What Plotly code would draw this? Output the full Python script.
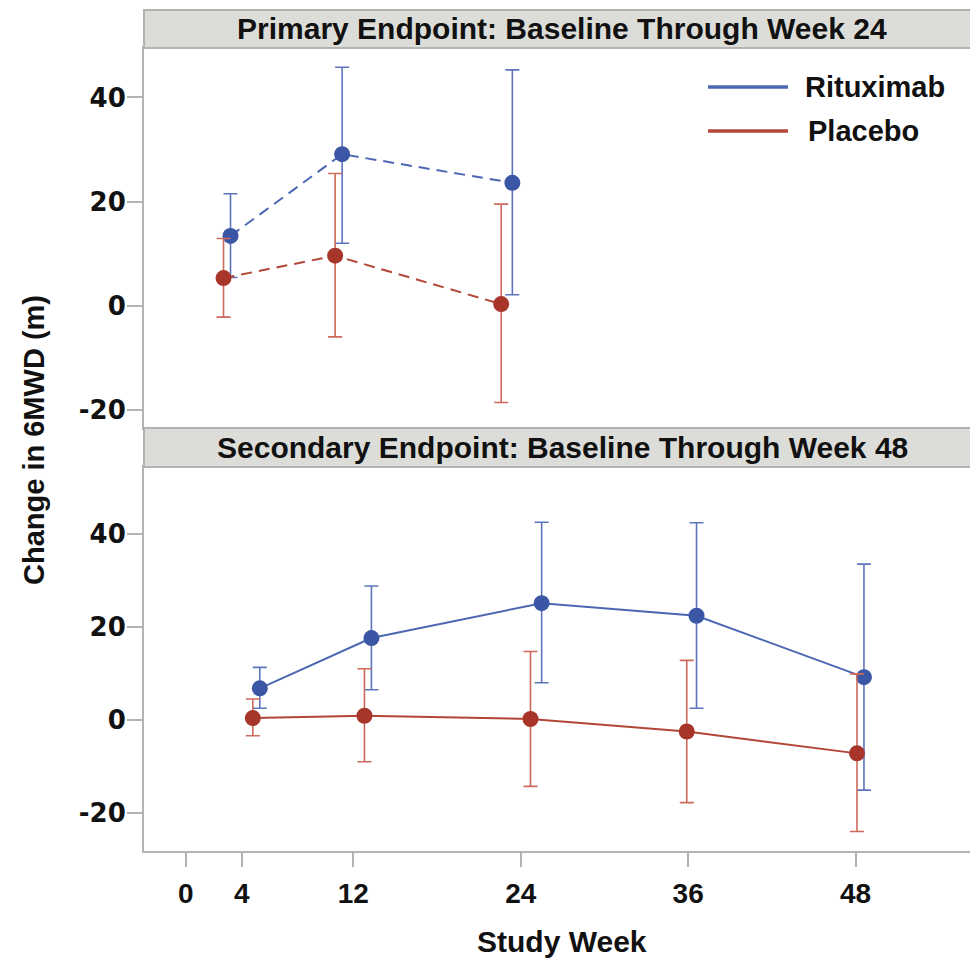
import plotly.graph_objects as go

# ---------------- data ----------------
tick_weeks = [0, 4, 12, 24, 36, 48]
tick_labels = ["0", "4", "12", "24", "36", "48"]
y_tick_vals = [-20, 0, 20, 40]
y_tick_labels = ["-20", "0", "20", "40"]

# Primary endpoint (baseline through week 24) - plotted week positions are slightly offset
weeks_primary_rtx = [3.2, 11.2, 23.4]
weeks_primary_pbo = [2.7, 10.7, 22.6]
rtx_primary = [13.4, 29.1, 23.6]
rtx_primary_hi = [21.5, 45.8, 45.3]
rtx_primary_lo = [5.4, 12.0, 2.1]
pbo_primary = [5.3, 9.6, 0.3]
pbo_primary_hi = [12.9, 25.4, 19.5]
pbo_primary_lo = [-2.2, -6.0, -18.6]

# Secondary endpoint (baseline through week 48)
weeks_secondary_rtx = [5.3, 13.3, 25.5, 36.6, 48.6]
weeks_secondary_pbo = [4.8, 12.8, 24.7, 35.9, 48.1]
rtx_secondary = [6.8, 17.6, 25.1, 22.4, 9.2]
rtx_secondary_hi = [11.3, 28.8, 42.5, 42.4, 33.5]
rtx_secondary_lo = [2.5, 6.5, 8.0, 2.5, -15.1]
pbo_secondary = [0.4, 0.9, 0.2, -2.5, -7.2]
pbo_secondary_hi = [4.5, 11.0, 14.7, 12.8, 9.9]
pbo_secondary_lo = [-3.4, -9.0, -14.3, -17.8, -24.0]

series_names = ["Rituximab", "Placebo"]
panel_titles = ["Primary Endpoint: Baseline Through Week 24",
                "Secondary Endpoint: Baseline Through Week 48"]
x_title = "Study Week"
y_title = "Change in 6MWD (m)"

# ---------------- styles ----------------
BLUE_M, BLUE_L, BLUE_E = "#3a56a5", "#4d68b3", "#5d74bd"
RED_M, RED_L, RED_E = "#a8352a", "#b24637", "#cc6a5c"
AXIS_C = "#b3b3b3"
HDR_FILL = "#dcddd8"
FONT_B = "Liberation Sans, Arial, sans-serif"

W, H = 970, 959
L, R, T, B = 144, 0, 10, 959 - 851
PW, PH = W - L - R, H - T - B


def px_x(px):
    return (px - L) / PW


def px_y(py):
    return (H - B - py) / PH


top_dom = [px_y(428), px_y(48)]
bot_dom = [0, px_y(467)]


def err(vals, hi, lo):
    return dict(type="data", symmetric=False,
                array=[h - v for h, v in zip(hi, vals)],
                arrayminus=[v - l for v, l in zip(vals, lo)])


fig = go.Figure()


def add_series(x, y, hi, lo, lc, mc, ec, dash, xa, ya, name):
    e = err(y, hi, lo)
    e.update(color=ec, thickness=1.6, width=7)
    fig.add_trace(go.Scatter(
        x=x, y=y, mode="lines+markers", name=name, showlegend=False,
        line=dict(color=lc, width=2, dash=dash),
        marker=dict(color=mc, size=16, line=dict(width=0)),
        error_y=e, xaxis=xa, yaxis=ya))


add_series(weeks_primary_rtx, rtx_primary, rtx_primary_hi, rtx_primary_lo,
           BLUE_L, BLUE_M, BLUE_E, "11px,7px", "x", "y", series_names[0])
add_series(weeks_primary_pbo, pbo_primary, pbo_primary_hi, pbo_primary_lo,
           RED_L, RED_M, RED_E, "11px,7px", "x", "y", series_names[1])
add_series(weeks_secondary_rtx, rtx_secondary, rtx_secondary_hi, rtx_secondary_lo,
           BLUE_L, BLUE_M, BLUE_E, "solid", "x2", "y2", series_names[0])
add_series(weeks_secondary_pbo, pbo_secondary, pbo_secondary_hi, pbo_secondary_lo,
           RED_L, RED_M, RED_E, "solid", "x2", "y2", series_names[1])

x_range = [-3.0, 56.2]
common_x = dict(range=x_range, showline=True, linecolor=AXIS_C, linewidth=2,
                mirror=True, showgrid=False, zeroline=False)
common_y = dict(showline=True, linecolor=AXIS_C, linewidth=2, mirror=False,
                showgrid=False, zeroline=False, ticks="outside", ticklen=15,
                tickcolor=AXIS_C, tickwidth=1.5, tickvals=y_tick_vals,
                ticktext=y_tick_labels,
                tickfont=dict(family="DejaVu Sans, sans-serif", size=26,
                              color="#111", weight="bold"),
                ticklabelstandoff=-4)

fig.update_layout(
    width=W, height=H,
    margin=dict(l=L, r=R, t=T, b=B),
    paper_bgcolor="white", plot_bgcolor="white",
    showlegend=False,
    xaxis=dict(domain=[0, 1], anchor="y", showticklabels=False, ticks="",
               **common_x),
    yaxis=dict(domain=top_dom, anchor="x", range=[-23.5, 49.5], **common_y),
    xaxis2=dict(domain=[0, 1], anchor="y2", tickvals=tick_weeks, ticktext=tick_labels,
                ticks="outside", ticklen=14, tickcolor=AXIS_C, tickwidth=1.5,
                tickfont=dict(family=FONT_B, size=28, color="#111", weight="bold"),
                ticklabelstandoff=2, **common_x),
    yaxis2=dict(domain=bot_dom, anchor="x2", range=[-28.2, 54.4], **common_y),
)

shapes = []
annotations = []
# panel headers
for (y0, y1), title in zip([(px_y(48), px_y(10)), (px_y(467), px_y(428))], panel_titles):
    shapes.append(dict(type="rect", xref="paper", yref="paper", x0=0, x1=1.01, y0=y0, y1=y1,
                       fillcolor=HDR_FILL, line=dict(color=AXIS_C, width=2), layer="above"))
    annotations.append(dict(text=f"<b>{title}</b>", xref="paper", yref="paper",
                            x=px_x(562), y=(y0 + y1) / 2, showarrow=False,
                            xanchor="center", yanchor="middle",
                            font=dict(family=FONT_B, size=30, color="#111")))

# legend (drawn manually to match long sample lines)
for name, col, py, tx in [(series_names[0], BLUE_L, 87, 803), (series_names[1], RED_L, 131, 806)]:
    shapes.append(dict(type="line", xref="paper", yref="paper",
                       x0=px_x(708), x1=px_x(788), y0=px_y(py), y1=px_y(py),
                       line=dict(color=col, width=3.5)))
    annotations.append(dict(text=f"<b>{name}</b>", xref="paper", yref="paper",
                            x=px_x(tx), y=px_y(py), showarrow=False,
                            xanchor="left", yanchor="middle",
                            font=dict(family=FONT_B, size=29, color="#111")))

# axis titles
annotations.append(dict(text=f"<b>{x_title}</b>", xref="paper", yref="paper",
                        x=px_x(562), y=px_y(942), showarrow=False,
                        xanchor="center", yanchor="middle",
                        font=dict(family=FONT_B, size=30, color="#111")))
annotations.append(dict(text=f"<b>{y_title}</b>", xref="paper", yref="paper",
                        x=px_x(34), y=px_y(440), showarrow=False, textangle=-90,
                        xanchor="center", yanchor="middle",
                        font=dict(family=FONT_B, size=29, color="#111")))

fig.update_layout(shapes=shapes, annotations=annotations)
fig.write_html("out.html",
               config={"displayModeBar": False},
               post_script="document.body.style.margin='0';"
                           "document.body.style.overflow='hidden';")
